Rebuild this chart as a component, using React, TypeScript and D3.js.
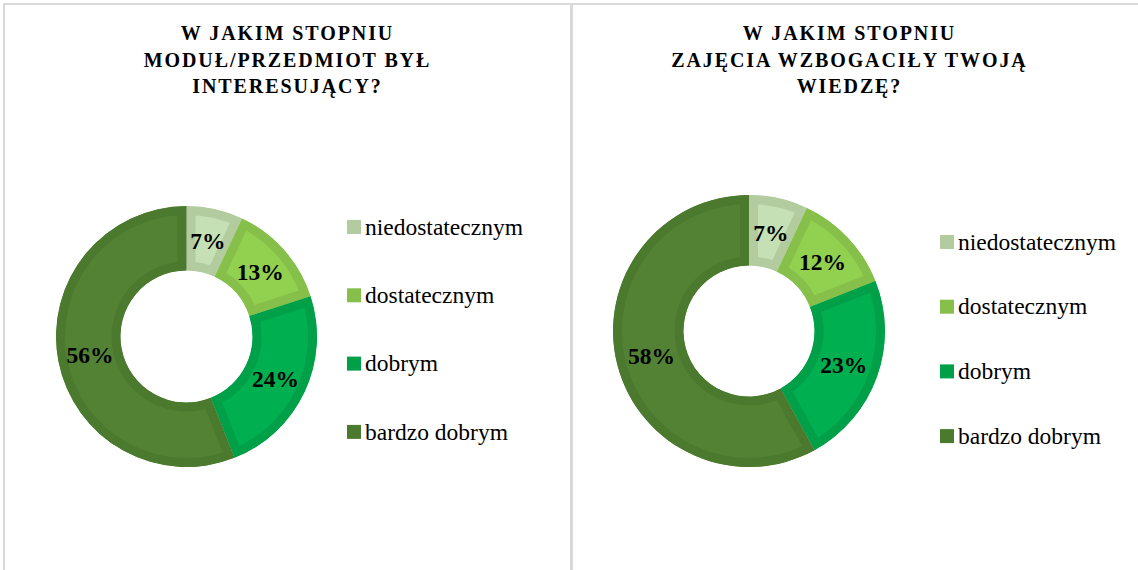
import React from "react";
import * as d3 from "d3";

const categories = ["niedostatecznym", "dostatecznym", "dobrym", "bardzo dobrym"];
const fillColors = ["#c5e0b4", "#92d050", "#00b050", "#548235"];
const borderColors = ["#b2cb9f", "#86bf4a", "#00a048", "#4b7a2e"];

const title1 = ["W JAKIM STOPNIU", "MODUŁ/PRZEDMIOT BYŁ", "INTERESUJĄCY?"];
const values1 = [7, 13, 24, 56];

const title2 = ["W JAKIM STOPNIU", "ZAJĘCIA WZBOGACIŁY TWOJĄ", "WIEDZĘ?"];
const values2 = [7, 12, 23, 58];

const panels = [
  { id: "a", title: title1, values: values1, titleX: 287.5, cx: 186.5, cy: 336.5, outer: 130.5, inner: 66, legX: 347, legY: 227, legStep: 68.3 },
  { id: "b", title: title2, values: values2, titleX: 849.5, cx: 749, cy: 331, outer: 136, inner: 65.5, legX: 940, legY: 242, legStep: 64.7 },
];

const serif = "'Liberation Serif', 'Times New Roman', serif";

function Donut({ p }: { p: typeof panels[number] }) {
  const pie = d3.pie<number>().sort(null).value((d) => d);
  const arcs = pie(p.values);
  const arc = d3.arc<d3.PieArcDatum<number>>().innerRadius(p.inner).outerRadius(p.outer);
  return (
    <g>
      <g textAnchor="middle" fontFamily={serif} fontWeight="bold" fill="#000">
        {p.title.map((t, i) => (
          <text key={i} x={p.titleX} y={40 + i * 26.5} fontSize={20} letterSpacing={1.9}>{t}</text>
        ))}
      </g>
      <g transform={`translate(${p.cx},${p.cy})`}>
        <defs>
          {arcs.map((a, i) => (
            <clipPath id={`clip-${p.id}-${i}`} key={i}>
              <path d={arc(a) || ""} />
            </clipPath>
          ))}
        </defs>
        {arcs.map((a, i) => (
          <path
            key={i}
            d={arc(a) || ""}
            fill={fillColors[i]}
            stroke={borderColors[i]}
            strokeWidth={18}
            clipPath={`url(#clip-${p.id}-${i})`}
          />
        ))}
        {arcs.map((a, i) => {
          const [x, y] = arc.centroid(a);
          return (
            <text key={i} x={x} y={y} dy="0.35em" textAnchor="middle" fontFamily={serif} fontWeight="bold" fontSize={23.5} fill="#000">
              {`${p.values[i]}%`}
            </text>
          );
        })}
      </g>
      <g fontFamily={serif} fontSize={23.5} fill="#000">
        {categories.map((c, i) => (
          <g key={c} transform={`translate(${p.legX},${p.legY + i * p.legStep})`}>
            <rect x={0} y={-7} width={14} height={14} fill={borderColors[i]} />
            <text x={18} y={0} dy="0.33em">{c}</text>
          </g>
        ))}
      </g>
    </g>
  );
}

export default function App() {
  return (
    <div style={{ position: "absolute", left: 0, top: 0 }}>
      <svg width={1138} height={570} style={{ display: "block", background: "#fff" }}>
        <rect x={0} y={0} width={1138} height={570} fill="#fff" />
        <rect x={4} y={4} width={567} height={620} fill="none" stroke="#d9d9d9" strokeWidth={2} />
        <rect x={572} y={4} width={620} height={620} fill="none" stroke="#d9d9d9" strokeWidth={2} />
        {panels.map((p) => (
          <Donut key={p.id} p={p} />
        ))}
      </svg>
    </div>
  );
}
